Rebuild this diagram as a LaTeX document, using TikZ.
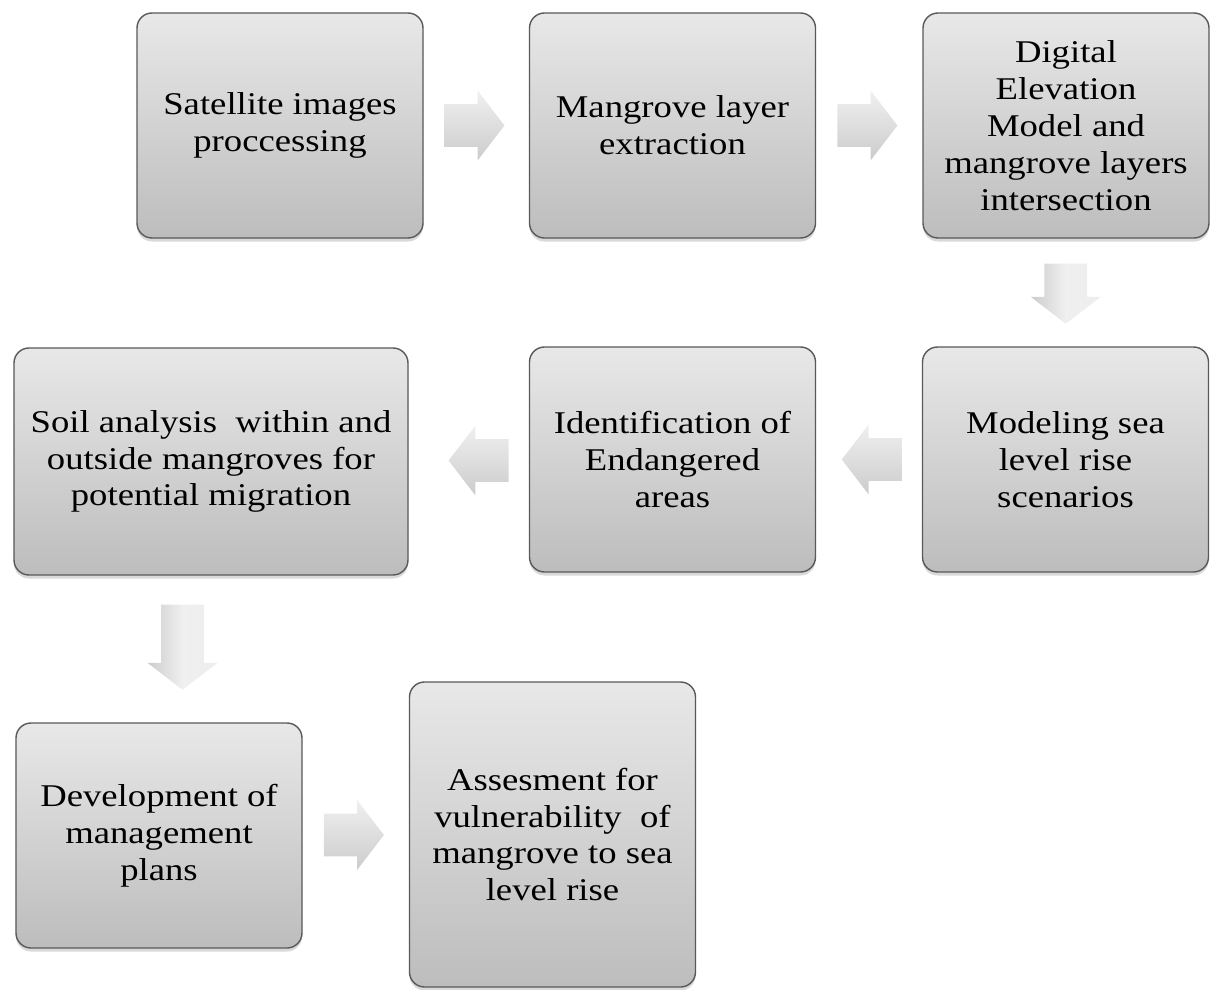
\documentclass[tikz,border=0pt]{standalone}
\usepackage{fontspec}
\setmainfont{Liberation Serif}[FakeStretch=1.16]
\usetikzlibrary{shapes.arrows, shadows, calc}

\begin{document}
\begin{tikzpicture}[
    stepbox/.style={draw=black!65, line width=0.8pt, rounded corners=0.3cm,
        top color=gray!18, bottom color=gray!52, minimum width=5.72cm,
        minimum height=4.5cm, align=center, font=\fontsize{18}{21}\selectfont,
        drop shadow={shadow xshift=0pt, shadow yshift=-2pt, opacity=0.3}},
    flowarrow/.style={single arrow, draw=none, top color=gray!12, bottom color=gray!40,
        inner xsep=0pt, inner ysep=0.42cm, single arrow head extend=0.27cm,
        single arrow tip angle=105, minimum height=1.2cm},
    downarrow/.style={flowarrow, shape border rotate=270, inner xsep=0.42cm, inner ysep=0pt,
        left color=gray!40, right color=gray!14, middle color=gray!12}
]
    \useasboundingbox (0, 0) rectangle (24.24, -19.8);

    \node[stepbox] (sat) at (5.6, -2.51) {Satellite images\\proccessing};
    \node[stepbox] (mang) at (13.45, -2.51) {Mangrove layer\\extraction};
    \node[stepbox] (dem) at (21.32, -2.51) {Digital\\Elevation\\Model and\\mangrove layers\\intersection};

    \node[stepbox] (model) at (21.31, -9.19) {Modeling sea\\level rise\\scenarios};
    \node[stepbox] (ident) at (13.45, -9.19) {Identification of\\Endangered\\areas};
    \node[stepbox, minimum width=7.88cm, minimum height=4.54cm] (soil) at (4.22, -9.23) {Soil analysis~ within and\\outside mangroves for\\potential migration};

    \node[stepbox] (devel) at (3.18, -16.71) {Development of\\management\\plans};
    \node[stepbox, minimum height=6.1cm] (asses) at (11.05, -16.69) {Assesment for\\vulnerability~ of\\mangrove to sea\\level rise};

    \node[flowarrow] (a1) at ($(sat.east)!0.5!(mang.west) + (-0.2, 0)$) {};
    \node[flowarrow] (a2) at ($(mang.east)!0.5!(dem.west) + (-0.2, 0)$) {};
    \node[downarrow] (a3) at ($(dem.south)!0.5!(model.north) + (0, 0.14)$) {};
    \node[flowarrow, shape border rotate=180] (a4) at ($(model.west)!0.5!(ident.east) + (0.22, 0)$) {};
    \node[flowarrow, shape border rotate=180] (a5) at ($(soil.east)!0.5!(ident.west) + (0.36, 0)$) {};
    \node[downarrow, minimum height=1.7cm] (a6) at ($(soil.south)!0.5!(devel.north) + (-0.05, 0.2)$) {};
    \node[flowarrow] (a7) at ($(devel.east)!0.5!(asses.west) + (-0.2, 0)$) {};
\end{tikzpicture}
\end{document}
